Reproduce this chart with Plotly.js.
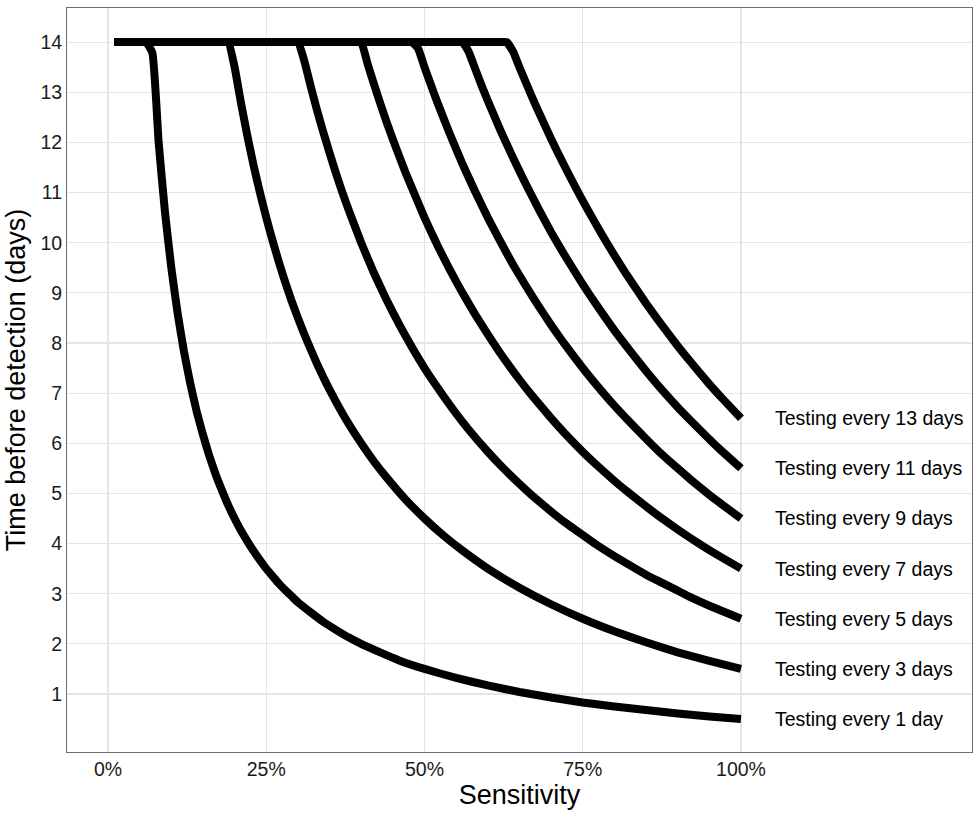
<!DOCTYPE html>
<html>
<head>
<meta charset="utf-8">
<script src="https://cdn.plot.ly/plotly-3.0.1.min.js"></script>
<style>html,body{margin:0;padding:0;background:#fff;}#chart{width:980px;height:817px;}</style>
</head>
<body>
<div id="chart"></div>
<script>
const labels = ["Testing every 1 day","Testing every 3 days","Testing every 5 days","Testing every 7 days","Testing every 9 days","Testing every 11 days","Testing every 13 days"];

const x1 = [1,5,6,7,8,9,10,11,12,13,14,15,16,17,18,19,20,21,22,23,24,25,26,27,28,29,30,32,34,36,38,40,43,46,50,55,60,65,70,75,80,85,90,95,100];
const y1 = [14,14,14,13.79,12.0,10.61,9.5,8.59,7.83,7.19,6.64,6.17,5.75,5.38,5.06,4.76,4.5,4.26,4.05,3.85,3.67,3.5,3.35,3.20,3.07,2.95,2.83,2.63,2.44,2.28,2.13,2.0,1.83,1.67,1.5,1.32,1.17,1.04,0.93,0.83,0.75,0.68,0.61,0.55,0.5];

const x3 = [1,18,19,20,21,22,23,24,25,26,27,28,29,30,31,32,33,34,35,36,38,40,42,44,47,50,53,56,60,65,70,75,80,85,90,95,100];
const y3 = [14,14,14,13.5,12.79,12.14,11.54,11.0,10.5,10.04,9.61,9.21,8.84,8.5,8.18,7.88,7.59,7.32,7.07,6.83,6.39,6.0,5.64,5.32,4.88,4.5,4.16,3.86,3.5,3.12,2.79,2.5,2.25,2.03,1.83,1.66,1.5];

const x5 = [1,29,30,31,32,33,34,35,36,37,38,40,42,44,46,48,50,52,55,57,60,62,65,67,70,72,75,77,80,82,85,87,90,92,95,100];
const y5 = [14,14,14,13.63,13.13,12.65,12.21,11.79,11.39,11.01,10.66,10.0,9.40,8.86,8.37,7.92,7.5,7.12,6.59,6.27,5.83,5.56,5.19,4.96,4.64,4.44,4.17,3.99,3.75,3.60,3.38,3.25,3.06,2.93,2.76,2.5];

const x7 = [1,39,40,41,42,43,44,45,47,50,52,54,56,58,60,62,65,67,70,72,75,77,80,82,85,87,90,92,95,97,100];
const y7 = [14,14,14,13.57,13.17,12.78,12.41,12.06,11.40,10.5,9.96,9.46,9.0,8.57,8.17,7.79,7.27,6.95,6.5,6.22,5.83,5.59,5.25,5.04,4.74,4.55,4.28,4.11,3.87,3.72,3.5];

const x9 = [1,47,48,49,50,51,52,54,56,58,60,62,64,66,68,70,72,75,77,80,82,85,87,90,92,95,97,100];
const y9 = [14,14,14,13.87,13.5,13.15,12.81,12.17,11.57,11.02,10.5,10.02,9.56,9.14,8.74,8.36,8.0,7.5,7.19,6.75,6.48,6.09,5.84,5.5,5.28,4.97,4.78,4.5];

const x11 = [1,55,56,57,58,59,60,62,64,66,68,70,72,75,77,80,82,85,87,90,92,95,97,100];
const y11 = [14,14,14,13.80,13.47,13.14,12.83,12.24,11.69,11.17,10.68,10.21,9.78,9.17,8.79,8.25,7.92,7.44,7.14,6.72,6.46,6.08,5.84,5.5];

const x13 = [1,62,63,64,65,66,67,68,70,72,74,76,78,80,82,85,87,90,92,95,97,100];
const y13 = [14,14,14,13.81,13.50,13.20,12.90,12.62,12.07,11.56,11.07,10.61,10.17,9.75,9.35,8.79,8.44,7.94,7.63,7.18,6.90,6.5];

const xTicks = [0,25,50,75,100];
const yTicks = [1,2,3,4,5,6,7,8,9,10,11,12,13,14];

const xs = [x1,x3,x5,x7,x9,x11,x13];
const ys = [y1,y3,y5,y7,y9,y11,y13];

const FONT = '"Liberation Sans", Arial, sans-serif';

const traces = xs.map((x,i)=>({
  x: x, y: ys[i], type:'scatter', mode:'lines',
  line:{color:'#000000', width:8, shape:'spline', smoothing:0.4},
  name: labels[i], showlegend:false, hoverinfo:'skip'
}));

const annotations = labels.map((t,i)=>({
  x: 105, y: ys[i][ys[i].length-1], xref:'x', yref:'y',
  text: t, showarrow:false, xanchor:'left', yanchor:'middle',
  font:{family:FONT, size:19.5, color:'#000'}
}));

const layout = {
  width:980, height:817,
  margin:{l:67, r:8, t:8, b:65},
  paper_bgcolor:'#ffffff', plot_bgcolor:'#ffffff',
  font:{family:FONT, color:'#000'},
  showlegend:false,
  xaxis:{
    range:[-6.48,136.5], tickvals:xTicks, ticktext:xTicks.map(v=>v+'%'),
    showgrid:true, gridcolor:'#e5e5e5', gridwidth:1.2, zeroline:false,
    showline:true, mirror:true, linecolor:'#6e6e6e', linewidth:1,
    ticks:'', tickfont:{family:FONT, size:19.5, color:'#1a1a1a'},
    title:{text:'Sensitivity', font:{family:FONT, size:27, color:'#000'}, standoff:4}
  },
  yaxis:{
    range:[-0.157,14.68], tickvals:yTicks,
    showgrid:true, gridcolor:'#e5e5e5', gridwidth:1.2, zeroline:false,
    showline:true, mirror:true, linecolor:'#6e6e6e', linewidth:1,
    ticks:'', tickfont:{family:FONT, size:19.5, color:'#1a1a1a'},
    title:{text:'Time before detection (days)', font:{family:FONT, size:27, color:'#000'}, standoff:6}
  },
  annotations: annotations
};

Plotly.newPlot('chart', traces, layout, {displayModeBar:false, staticPlot:true});
</script>
</body>
</html>
